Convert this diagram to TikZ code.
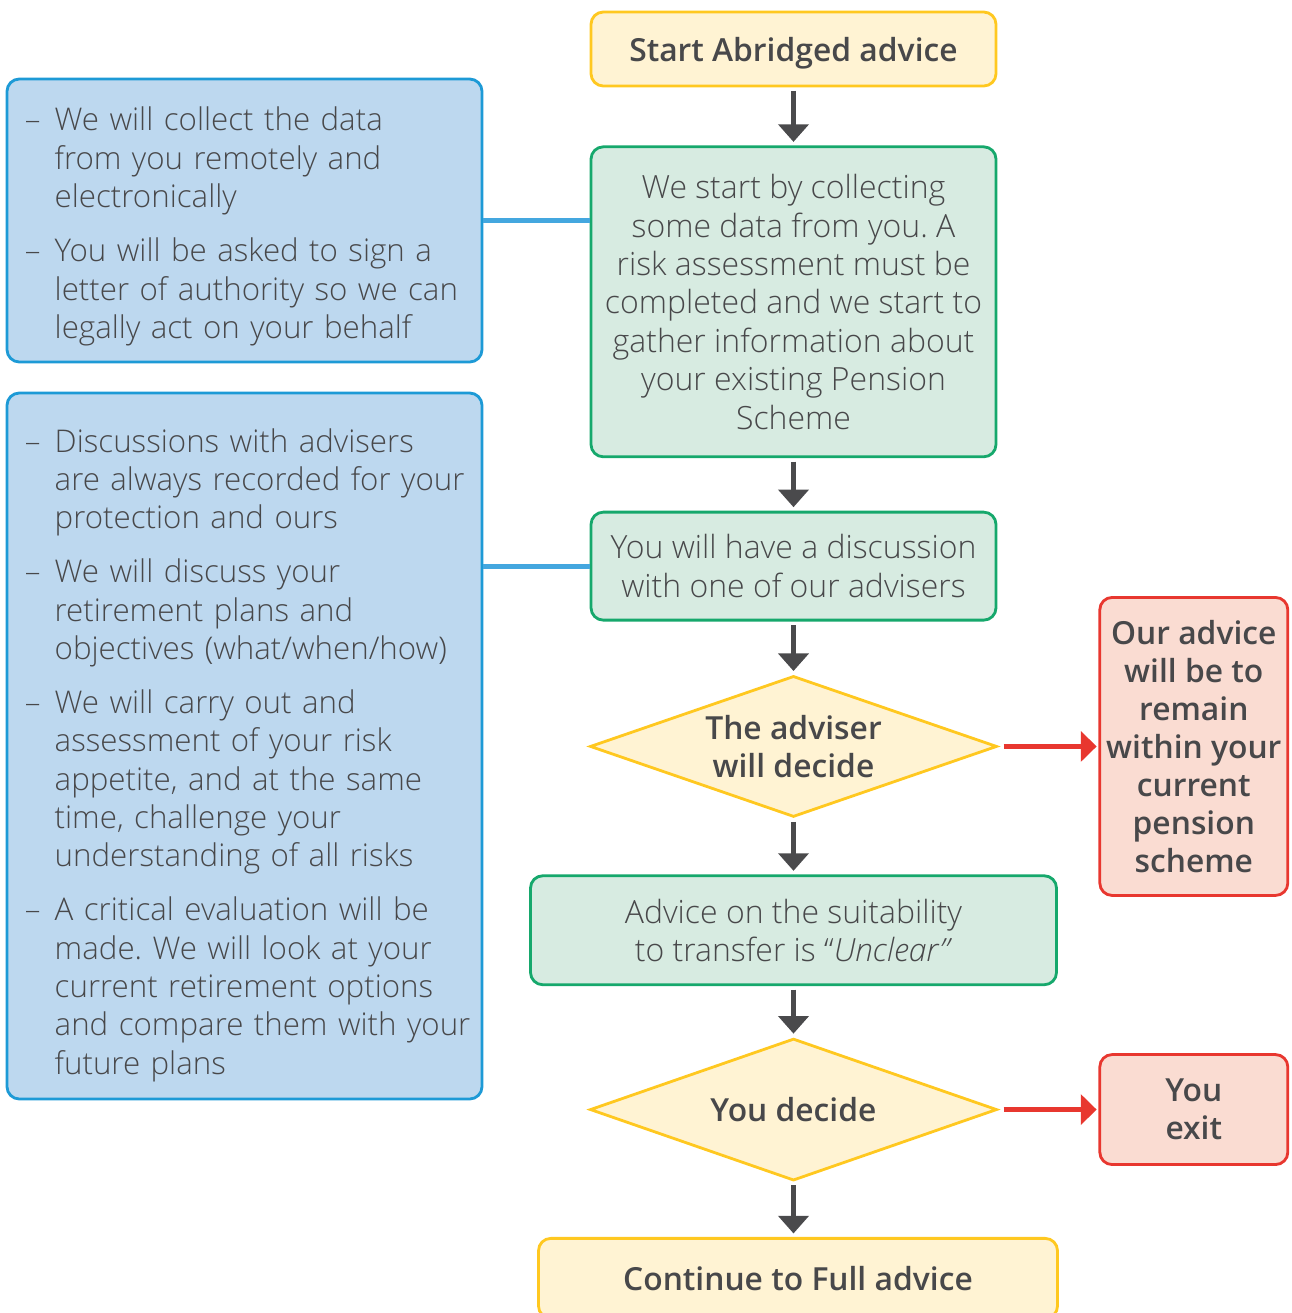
\documentclass[tikz,border=0pt]{standalone}
\usepackage{fontspec}
\usepackage{xcolor}
\usepackage{tikz}
\usetikzlibrary{shapes.geometric, arrows.meta, positioning, calc}
\setmainfont{Open Sans}
\IfFontExistsTF{Open Sans Light}{\newfontfamily\bodyfont{Open Sans Light}}{\newfontfamily\bodyfont{Open Sans}}
\IfFontExistsTF{Open Sans Semibold}
    {\newfontfamily\headfont{Open Sans Semibold}\newcommand{\headsize}{18.1}}
    {\IfFontExistsTF{Open Sans SemiBold}
        {\newfontfamily\headfont{Open Sans SemiBold}\newcommand{\headsize}{18.1}}
        {\newcommand{\headfont}{\bfseries}\newcommand{\headsize}{17.6}}}
\frenchspacing
\definecolor{textgray}{HTML}{48484A}
\definecolor{arrowgray}{HTML}{4A4A4C}
\definecolor{flowyellow}{HTML}{FFC820}
\definecolor{flowyellowbg}{HTML}{FFF3D3}
\definecolor{flowgreen}{HTML}{16A86C}
\definecolor{flowgreenbg}{HTML}{D7EBE1}
\definecolor{flowred}{HTML}{E8372F}
\definecolor{flowredbg}{HTML}{FADCD2}
\definecolor{noteblue}{HTML}{1D9AD6}
\definecolor{notebluebg}{HTML}{BDD8EF}
\definecolor{linkblue}{HTML}{44A7DF}
\newcommand{\bodytext}{\bodyfont\fontsize{18.2}{21.85}\selectfont}
\newcommand{\notetext}{\bodyfont\fontsize{17.8}{21.85}\selectfont}
\newcommand{\headtext}{\headfont\fontsize{\headsize}{21.6}\selectfont}
% push a block of text down inside its box
\newcommand{\lowered}[2]{\raisebox{-#1}[\height][\depth]{#2}}
\tikzset{
    base/.style={line width=1.6pt, text=textgray, font=\bodytext, align=center, inner sep=4pt},
    startbox/.style={base, rectangle, rounded corners=7pt, draw=flowyellow, fill=flowyellowbg, font=\headtext},
    stepbox/.style={base, rectangle, rounded corners=7pt, draw=flowgreen, fill=flowgreenbg},
    decision/.style={base, diamond, aspect=2.9, inner sep=0pt, draw=flowyellow, fill=flowyellowbg, font=\headtext},
    exitbox/.style={base, rectangle, rounded corners=7pt, draw=flowred, fill=flowredbg, font=\headtext},
    notebox/.style={base, rectangle, rounded corners=7pt, draw=noteblue, fill=notebluebg, font=\notetext, align=left, text width=8.78cm, inner xsep=0.36cm},
    line/.style={draw=arrowgray, line width=3.2pt, -{Triangle[width=17pt, length=10pt]}, shorten <=2pt, shorten >=2pt},
    redline/.style={draw=flowred, line width=2.8pt, -{Triangle[width=17pt, length=9pt]}, shorten <=3pt, shorten >=1pt},
    link/.style={draw=linkblue, line width=2.8pt}
}

\begin{document}
\begin{tikzpicture}
    \useasboundingbox (0,0) rectangle (25.82,-26.26);

    % main flow
    \node [startbox, minimum width=8.1cm, minimum height=1.48cm] (Start) at (15.87,-0.98) {\lowered{0.08cm}{Start Abridged advice}};
    \node [stepbox, minimum width=8.1cm, minimum height=6.2cm, below=1.16cm of Start] (Collect)
        {We start by collecting\\some data from you. A\\risk assessment must be\\completed and we start to\\gather information about\\your existing Pension\\Scheme};
    \node [stepbox, minimum width=8.1cm, minimum height=2.16cm, below=1.05cm of Collect] (Discuss)
        {You will have a discussion\\with one of our advisers};
    \node [decision, minimum width=8.14cm, minimum height=2.82cm, below=1.06cm of Discuss] (AdviserDecides)
        {The adviser\\will decide};
    \node [stepbox, minimum width=10.52cm, minimum height=2.18cm, below=1.12cm of AdviserDecides] (Unclear)
        {Advice on the suitability\\to transfer is “\textit{Unclear”}};
    \node [decision, minimum width=8.14cm, minimum height=2.84cm, below=1.02cm of Unclear] (YouDecide)
        {You decide};
    \node [startbox, minimum width=10.38cm, minimum height=1.6cm, below=1.1cm of YouDecide, xshift=0.09cm] (FullAdvice)
        {Continue to Full advice};

    % exits
    \node [exitbox, minimum width=3.76cm, minimum height=5.96cm, inner sep=2pt, right=2.0cm of AdviserDecides] (Remain)
        {Our advice\\will be to\\remain\\within your\\current\\pension\\scheme};
    \node [exitbox, minimum width=3.76cm, minimum height=2.2cm, right=2.0cm of YouDecide] (Exit)
        {You\\exit};

    % notes
    \node [notebox, minimum height=5.66cm] (NotesData) at (4.89,-4.41) {\lowered{0.13cm}{%
        \begin{tabular}{@{}l@{\hspace{8pt}}l@{}}
        – & We will collect the data\\
          & from you remotely and\\
          & electronically\\[8.8pt]
        – & You will be asked to sign a\\
          & letter of authority so we can\\
          & legally act on your behalf
        \end{tabular}}};
    \node [notebox, minimum height=14.12cm] (NotesTalk) at (4.89,-14.92) {\lowered{0.19cm}{%
        \begin{tabular}{@{}l@{\hspace{8pt}}l@{}}
        – & Discussions with advisers\\
          & are always recorded for your\\
          & protection and ours\\[8.8pt]
        – & We will discuss your\\
          & retirement plans and\\
          & objectives (what/when/how)\\[8.8pt]
        – & We will carry out and\\
          & assessment of your risk\\
          & appetite, and at the same\\
          & time, challenge your\\
          & understanding of all risks\\[8.8pt]
        – & A critical evaluation will be\\
          & made. We will look at your\\
          & current retirement options\\
          & and compare them with your\\
          & future plans
        \end{tabular}}};

    \draw [line] (Start) -- (Collect);
    \draw [line] (Collect) -- (Discuss);
    \draw [line] (Discuss) -- (AdviserDecides);
    \draw [line] (AdviserDecides) -- (Unclear);
    \draw [line] (Unclear) -- (YouDecide);
    \draw [line] (YouDecide) -- (FullAdvice.north -| YouDecide.south);
    \draw [redline] (AdviserDecides) -- (Remain);
    \draw [redline] (YouDecide) -- (Exit);
    \draw [link] (NotesData.east) -- (NotesData.east -| Collect.west);
    \draw [link] (Discuss.west) -- (Discuss.west -| NotesTalk.east);
\end{tikzpicture}
\end{document}
